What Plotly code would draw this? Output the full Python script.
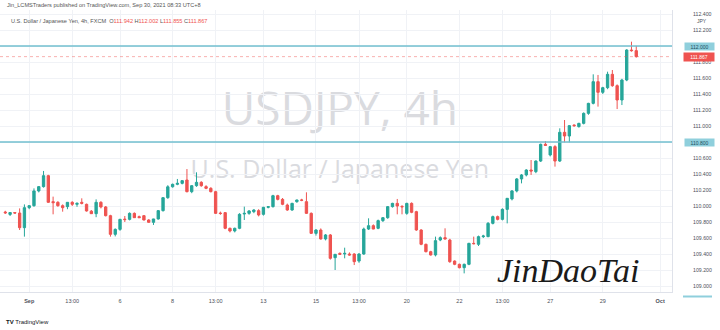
import plotly.graph_objects as go

# ---------------- data (USDJPY 4h, FXCM) ----------------
opens = [109.925, 109.895, 109.918, 109.912, 109.729, 109.979, 110.004, 110.188, 110.242, 110.379,
         110.054, 110.046, 110.004, 109.992, 110.046, 110.021, 110.046, 110.021, 109.935, 109.904,
         110.046, 109.988, 109.879, 109.646, 109.708, 109.836, 109.833, 109.908, 109.867, 109.879,
         109.825, 109.796, 109.838, 109.942, 110.104, 110.240, 110.271, 110.283, 110.325, 110.179,
         110.254, 110.296, 110.242, 110.221, 110.179, 109.912, 109.917, 109.721, 109.688, 109.721,
         109.900, 109.908, 109.929, 109.942, 109.896, 109.983, 109.992, 110.129, 110.083, 110.012,
         109.950, 110.054, 110.075, 110.054, 109.908, 109.658, 109.700, 109.588, 109.638, 109.354,
         109.408, 109.400, 109.400, 109.400, 109.312, 109.400, 109.712, 109.754, 109.721, 109.817,
         109.854, 109.992, 110.033, 109.995, 109.908, 110.033, 109.929, 109.700, 109.521, 109.429,
         109.388, 109.575, 109.604, 109.575, 109.312, 109.271, 109.229, 109.271, 109.533, 109.521,
         109.617, 109.617, 109.783, 109.867, 109.833, 109.958, 110.088, 110.188, 110.338, 110.388,
         110.450, 110.429, 110.562, 110.771, 110.638, 110.742, 110.562, 110.921, 110.875, 111.012,
         110.992, 111.033, 111.158, 111.283, 111.554, 111.421, 111.479, 111.646, 111.504, 111.325,
         111.575, 111.950, 111.942]
highs = [109.940, 109.925, 109.925, 109.970, 110.020, 110.010, 110.220, 110.250, 110.438, 110.390,
         110.117, 110.060, 110.020, 110.050, 110.060, 110.045, 110.096, 110.030, 109.950, 110.083,
         110.060, 110.000, 109.890, 109.720, 109.840, 109.875, 109.920, 109.920, 109.880, 109.885,
         109.835, 109.840, 109.950, 110.110, 110.260, 110.280, 110.338, 110.320, 110.462, 110.260,
         110.421, 110.310, 110.260, 110.235, 110.190, 109.930, 109.925, 109.730, 109.730, 109.910,
         109.992, 109.950, 109.960, 109.960, 109.990, 110.000, 110.140, 110.140, 110.100, 110.030,
         110.040, 110.080, 110.090, 110.171, 109.920, 109.710, 109.720, 109.650, 109.650, 109.400,
         109.420, 109.479, 109.420, 109.410, 109.410, 109.730, 109.846, 109.770, 109.830, 109.860,
         110.000, 110.040, 110.088, 110.010, 110.040, 110.045, 109.940, 109.710, 109.530, 109.440,
         109.617, 109.620, 109.721, 109.590, 109.320, 109.280, 109.280, 109.540, 109.617, 109.630,
         109.640, 109.800, 109.880, 109.880, 109.971, 110.100, 110.200, 110.350, 110.400, 110.460,
         110.575, 110.570, 110.780, 110.812, 110.750, 110.760, 110.971, 111.075, 111.010, 111.020,
         111.040, 111.170, 111.290, 111.646, 111.638, 111.490, 111.679, 111.700, 111.520, 111.590,
         111.960, 112.054, 112.002]
lows = [109.900, 109.875, 109.905, 109.700, 109.617, 109.960, 109.990, 110.170, 110.230, 110.040,
        109.896, 109.990, 109.929, 109.960, 110.000, 109.990, 110.020, 109.930, 109.900, 109.860,
        109.970, 109.870, 109.617, 109.620, 109.690, 109.800, 109.820, 109.850, 109.850, 109.820,
        109.790, 109.763, 109.830, 109.930, 110.090, 110.230, 110.260, 110.270, 110.170, 110.160,
        110.240, 110.240, 110.210, 110.170, 109.900, 109.890, 109.710, 109.670, 109.670, 109.710,
        109.825, 109.890, 109.910, 109.870, 109.880, 109.970, 109.980, 110.070, 110.010, 109.940,
        109.940, 110.040, 110.060, 109.900, 109.650, 109.630, 109.580, 109.570, 109.330, 109.200,
        109.390, 109.346, 109.380, 109.262, 109.290, 109.390, 109.700, 109.710, 109.710, 109.800,
        109.840, 109.980, 109.896, 109.896, 109.890, 109.910, 109.690, 109.510, 109.420, 109.380,
        109.370, 109.560, 109.580, 109.290, 109.260, 109.220, 109.158, 109.260, 109.520, 109.500,
        109.600, 109.610, 109.770, 109.820, 109.820, 109.783, 110.070, 110.170, 110.283, 110.370,
        110.388, 110.410, 110.550, 110.750, 110.620, 110.492, 110.550, 110.796, 110.796, 110.990,
        110.980, 111.020, 111.140, 111.270, 111.242, 111.400, 111.460, 111.490, 111.212, 111.262,
        111.560, 111.929, 111.855]
closes = [109.915, 109.918, 109.912, 109.729, 109.979, 110.004, 110.188, 110.242, 110.379, 110.046,
          110.042, 110.004, 109.979, 110.046, 110.021, 110.033, 110.033, 109.938, 109.904, 110.046,
          109.988, 109.879, 109.646, 109.708, 109.833, 109.830, 109.908, 109.854, 109.854, 109.825,
          109.796, 109.838, 109.942, 110.104, 110.240, 110.271, 110.283, 110.317, 110.179, 110.254,
          110.296, 110.254, 110.221, 110.179, 109.908, 109.906, 109.721, 109.688, 109.721, 109.896,
          109.908, 109.938, 109.950, 109.888, 109.983, 109.992, 110.129, 110.083, 110.021, 109.950,
          110.033, 110.075, 110.072, 109.908, 109.658, 109.700, 109.588, 109.638, 109.346, 109.396,
          109.396, 109.408, 109.388, 109.304, 109.400, 109.712, 109.754, 109.712, 109.817, 109.854,
          109.992, 110.033, 110.000, 109.990, 110.033, 109.921, 109.700, 109.521, 109.429, 109.388,
          109.567, 109.604, 109.588, 109.304, 109.271, 109.229, 109.271, 109.533, 109.529, 109.617,
          109.625, 109.783, 109.867, 109.833, 109.958, 110.096, 110.188, 110.338, 110.388, 110.450,
          110.438, 110.562, 110.771, 110.758, 110.742, 110.562, 110.921, 110.875, 111.004, 111.004,
          111.033, 111.158, 111.283, 111.554, 111.421, 111.479, 111.646, 111.504, 111.325, 111.575,
          111.950, 111.942, 111.867]
bar_index = list(range(len(closes)))

# time axis labels (bar index -> label)
time_tick_bars = [5, 14, 24, 35, 44, 54, 65, 74, 84, 95, 104, 114, 125, 137]
time_tick_labels = ["<b>Sep</b>", "13:00", "6", "8", "13:00", "13", "15", "13:00",
                    "20", "22", "13:00", "27", "29", "<b>Oct</b>"]

price_ticks = [109.0, 109.2, 109.4, 109.6, 109.8, 110.0, 110.2, 110.4, 110.6,
               110.8, 111.0, 111.2, 111.4, 111.6, 111.8, 112.0, 112.2, 112.4]
level_lines = [112.000, 110.800]

header_line1 = "Jin_LCMSTraders published on TradingView.com, Sep 30, 2021 08:33 UTC+8"
symbol_desc = "U.S. Dollar / Japanese Yen, 4h, FXCM"
watermark_main = "USDJPY, 4h"
watermark_sub = "U.S. Dollar / Japanese Yen"
signature = "JinDaoTai"

# ---------------- styling ----------------
GREEN = "#26a69a"
RED = "#ef5350"
LEVEL = "#72bfcf"
GRID = "#f0f2f6"
TXT = "#4c4f59"
FONT = "Liberation Sans"

W, H = 720, 330
L, R, T, B = 0, 48, 10, 38
pw, ph = W - L - R, H - T - B
X_RANGE = [-1.109, 139.48]
Y_RANGE = [108.925, 112.45]


def px_x(px):
    return (px - L) / pw


def px_y(py):
    return (H - B - py) / ph


fig = go.Figure()
fig.add_trace(go.Candlestick(
    x=bar_index, open=opens, high=highs, low=lows, close=closes,
    increasing=dict(line=dict(color=GREEN, width=1), fillcolor=GREEN),
    decreasing=dict(line=dict(color=RED, width=1), fillcolor=RED),
    whiskerwidth=0, hoverinfo="skip", showlegend=False))

shapes = []
# watermark (below candles)
shapes.append(dict(type="rect", xref="x", yref="y", layer="below",
                   x0=45, x1=95, y0=110.95, y1=111.45,
                   line=dict(width=0), fillcolor="rgba(0,0,0,0)",
                   label=dict(text=watermark_main, textposition="middle center",
                              font=dict(size=46, color="#dadbdf", family="Open Sans"))))
shapes.append(dict(type="rect", xref="x", yref="y", layer="below",
                   x0=45, x1=95, y0=110.3, y1=110.6,
                   line=dict(width=0), fillcolor="rgba(0,0,0,0)",
                   label=dict(text=watermark_sub, textposition="middle center",
                              font=dict(size=25, color="#dadbdf", family="Open Sans"))))
for lv in level_lines:
    shapes.append(dict(type="line", xref="paper", yref="y", x0=0, x1=1, y0=lv, y1=lv,
                       line=dict(color=LEVEL, width=1.3)))
shapes.append(dict(type="line", xref="paper", yref="y", x0=0, x1=1,
                   y0=closes[-1], y1=closes[-1],
                   line=dict(color="rgba(239,83,80,0.45)", width=1, dash="dot")))
# small marker box below price scale
shapes.append(dict(type="rect", xref="paper", yref="paper",
                   x0=px_x(683), x1=px_x(712), y0=px_y(297.5), y1=px_y(295.5),
                   line=dict(width=0), fillcolor="#8fcfdc"))

annotations = []
annotations.append(dict(xref="paper", yref="paper", x=px_x(5), y=px_y(5),
                        xanchor="left", yanchor="middle", showarrow=False,
                        text=header_line1, font=dict(size=5.6, color="#555", family=FONT)))
ohlc_txt = (symbol_desc + "  O<span style='color:%s'>%.3f</span> H<span style='color:%s'>%.3f</span>"
            " L<span style='color:%s'>%.3f</span> C<span style='color:%s'>%.3f</span>") % (
    RED, opens[-1], RED, highs[-1], RED, lows[-1], RED, closes[-1])
annotations.append(dict(xref="paper", yref="paper", x=px_x(9), y=px_y(21),
                        xanchor="left", yanchor="middle", showarrow=False,
                        text=ohlc_txt, font=dict(size=5.6, color="#555", family=FONT)))
annotations.append(dict(xref="paper", yref="paper", x=px_x(702), y=px_y(20.5),
                        xanchor="center", yanchor="middle", showarrow=False,
                        text="JPY", font=dict(size=5, color=TXT, family=FONT)))
for lv in level_lines:
    annotations.append(dict(xref="paper", yref="y", x=px_x(699), y=lv,
                            xanchor="center", yanchor="middle", showarrow=False,
                            text="%.3f" % lv, width=28, bgcolor="#8fcfdc", borderpad=0.5,
                            font=dict(size=5, color="#1d4e5c", family=FONT)))
annotations.append(dict(xref="paper", yref="y", x=px_x(699), y=closes[-1],
                        xanchor="center", yanchor="middle", showarrow=False,
                        text="%.3f" % closes[-1], width=28, bgcolor=RED, borderpad=1,
                        font=dict(size=5, color="white", family=FONT)))
annotations.append(dict(xref="paper", yref="paper", x=px_x(4), y=px_y(322),
                        xanchor="left", yanchor="middle", showarrow=False,
                        text="<b>TV</b> TradingView", font=dict(size=6, color="#131722", family=FONT)))
annotations.append(dict(xref="paper", yref="paper", x=px_x(568), y=px_y(270),
                        xanchor="center", yanchor="middle", showarrow=False,
                        text=signature,
                        font=dict(size=34, color="#1a1a1a", family="Liberation Serif", style="italic")))

# tick labels hidden where a highlighted level label sits on the scale
price_tick_text = ["" if any(abs(v - lv) < 1e-9 for lv in level_lines) else "%.3f" % v
                   for v in price_ticks]

fig.update_layout(
    width=W, height=H, margin=dict(l=L, r=R, t=T, b=B),
    paper_bgcolor="white", plot_bgcolor="white",
    shapes=shapes, annotations=annotations,
    xaxis=dict(range=X_RANGE, tickmode="array", tickvals=time_tick_bars, ticktext=time_tick_labels,
               showgrid=True, gridcolor=GRID, gridwidth=1, zeroline=False, ticks="",
               rangeslider=dict(visible=False), showline=True, linecolor="#dfe2ea",
               tickfont=dict(size=5.5, color=TXT, family=FONT), ticklabelstandoff=3),
    yaxis=dict(range=Y_RANGE, side="right", tickmode="array", tickvals=price_ticks,
               ticktext=price_tick_text, showgrid=True, gridcolor=GRID,
               zeroline=False, ticks="", showline=True, linecolor="#dfe2ea",
               tickfont=dict(size=5.2, color=TXT, family=FONT), ticklabelstandoff=19),
)

fig.write_html("out.html")
